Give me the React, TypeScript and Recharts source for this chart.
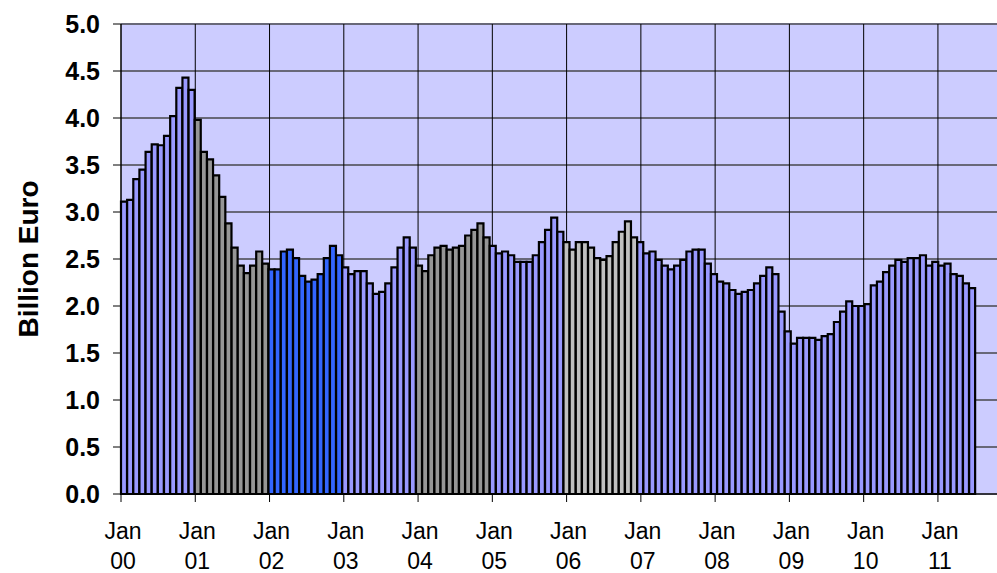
import React from 'react';
import { BarChart, Bar, XAxis, YAxis, CartesianGrid, Cell, Label } from 'recharts';

const yearLabels = ['00', '01', '02', '03', '04', '05', '06', '07', '08', '09', '10', '11'];

const v2000 = [3.11, 3.13, 3.35, 3.45, 3.64, 3.72, 3.71, 3.81, 4.02, 4.32, 4.43, 4.30];
const v2001 = [3.98, 3.64, 3.56, 3.39, 3.16, 2.88, 2.62, 2.43, 2.35, 2.43, 2.58, 2.45];
const v2002 = [2.39, 2.39, 2.58, 2.60, 2.51, 2.32, 2.26, 2.28, 2.34, 2.51, 2.64, 2.54];
const v2003 = [2.41, 2.34, 2.37, 2.37, 2.24, 2.13, 2.15, 2.24, 2.41, 2.62, 2.73, 2.62];
const v2004 = [2.43, 2.37, 2.54, 2.62, 2.64, 2.60, 2.62, 2.64, 2.75, 2.81, 2.88, 2.73];
const v2005 = [2.64, 2.56, 2.58, 2.54, 2.47, 2.47, 2.47, 2.54, 2.68, 2.81, 2.94, 2.79];
const v2006 = [2.68, 2.60, 2.68, 2.68, 2.62, 2.51, 2.49, 2.53, 2.68, 2.79, 2.90, 2.73];
const v2007 = [2.68, 2.56, 2.58, 2.49, 2.43, 2.39, 2.43, 2.49, 2.58, 2.60, 2.60, 2.45];
const v2008 = [2.34, 2.26, 2.24, 2.17, 2.13, 2.15, 2.17, 2.24, 2.32, 2.41, 2.34, 1.94];
const v2009 = [1.73, 1.60, 1.66, 1.66, 1.66, 1.64, 1.68, 1.70, 1.83, 1.94, 2.05, 2.00];
const v2010 = [2.00, 2.02, 2.22, 2.26, 2.36, 2.43, 2.49, 2.47, 2.51, 2.51, 2.54, 2.43];
const v2011 = [2.47, 2.43, 2.45, 2.34, 2.32, 2.24, 2.19];

const yearValues = [v2000, v2001, v2002, v2003, v2004, v2005, v2006, v2007, v2008, v2009, v2010, v2011];
const yearColors = ['#9999FF', '#969696', '#3366FF', '#9999FF', '#969696', '#9999FF', '#C0C0C0', '#9999FF', '#9999FF', '#9999FF', '#9999FF', '#9999FF'];

const yTicks = [0, 0.5, 1, 1.5, 2, 2.5, 3, 3.5, 4, 4.5, 5];
const janTicks = [0, 12, 24, 36, 48, 60, 72, 84, 96, 108, 120, 132];

const data: { idx: number; value: number | null; color: string }[] = [];
for (let y = 0; y < 12; y++) {
  for (let m = 0; m < 12; m++) {
    const v = yearValues[y][m];
    data.push({ idx: y * 12 + m, value: v === undefined ? null : v, color: yearColors[y] });
  }
}

const FONT = "'Liberation Sans', Arial, sans-serif";

const XTick = (props: any) => {
  const { x, y, payload } = props;
  const i = Math.round(payload.value / 12);
  return (
    <g>
      <text x={x + 2} y={y + 35} textAnchor="middle" fontSize={23} fontFamily={FONT} fill="#000">Jan</text>
      <text x={x + 2} y={y + 65} textAnchor="middle" fontSize={23} fontFamily={FONT} fill="#000">{yearLabels[i]}</text>
    </g>
  );
};

const YLabel = () => (
  <text x={38} y={259} transform="rotate(-90 38 259)" textAnchor="middle" fontSize={28} fontWeight="bold" fontFamily={FONT} fill="#000">
    Billion Euro
  </text>
);

export default function App() {
  return (
    <div style={{ position: 'fixed', left: 0, top: 0, width: 997, height: 573, overflow: 'hidden', background: '#fff' }}>
      <BarChart width={1006} height={573} data={data} margin={{ top: 24, right: 0, bottom: 0, left: 0 }} barCategoryGap={0} barGap={0}>
        <CartesianGrid xAxisId="t" vertical={false} stroke="#686878" strokeWidth={2} fill="#CCCCFF" fillOpacity={1} />
        <CartesianGrid xAxisId="t" horizontal={false} stroke="#000" strokeWidth={1} ticks={janTicks} />
        <XAxis
          xAxisId="t"
          type="number"
          domain={[0, 144]}
          ticks={janTicks}
          interval={0}
          height={79}
          tickSize={8}
          tickMargin={2}
          stroke="#000"
          axisLine={{ stroke: '#000', strokeWidth: 1 }}
          tickLine={{ stroke: '#000' }}
          tick={<XTick />}
          allowDataOverflow
        />
        <XAxis xAxisId="cat" dataKey="idx" type="category" hide height={0} />
        <YAxis
          type="number"
          domain={[0, 5]}
          ticks={yTicks}
          interval={0}
          width={121}
          tickSize={8}
          tickMargin={13}
          axisLine={{ stroke: '#000', strokeWidth: 1 }}
          tickLine={{ stroke: '#000' }}
          tickFormatter={(v: number) => v.toFixed(1)}
          tick={{ fontSize: 25, fontWeight: 'bold', fontFamily: FONT, fill: '#000' }}
        >
          <Label content={<YLabel />} />
        </YAxis>
        <Bar xAxisId="cat" dataKey="value" stroke="#000" strokeWidth={2.2} isAnimationActive={false}>
          {data.map((d) => (
            <Cell key={d.idx} fill={d.color} />
          ))}
        </Bar>
      </BarChart>
    </div>
  );
}
